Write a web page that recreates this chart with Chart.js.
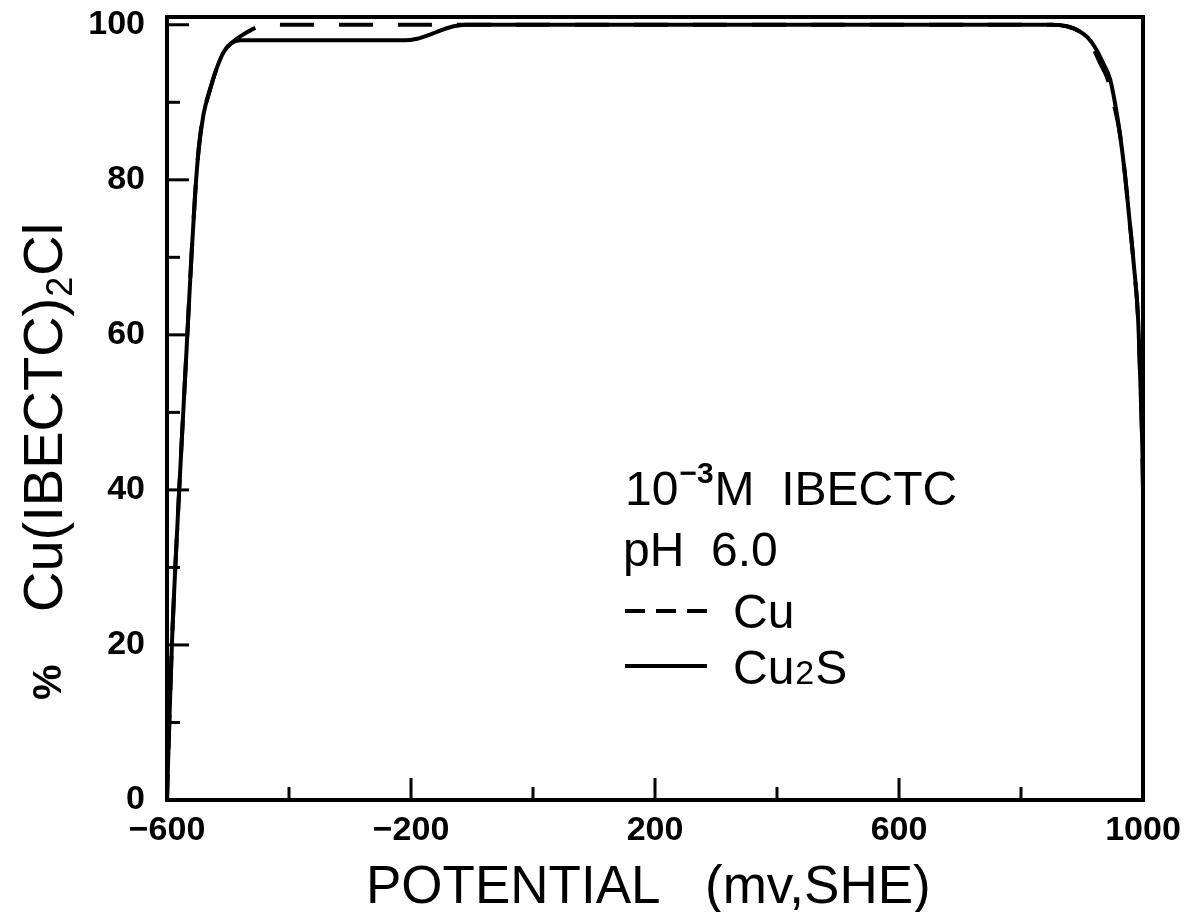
<!DOCTYPE html>
<html>
<head>
<meta charset="utf-8">
<title>% Cu(IBECTC)2Cl vs potential</title>
<script src="https://cdn.jsdelivr.net/npm/chart.js@4.4.1/dist/chart.umd.min.js"></script>
<style>
  html, body { margin: 0; padding: 0; background: #fff; }
  #wrap { width: 1189px; height: 912px; }
</style>
</head>
<body>
<div id="wrap"><canvas id="potentialChart" width="1189" height="912"></canvas></div>
<script>
// Cu2S curve (solid line), potential in mV vs SHE, % Cu(IBECTC)2Cl
const cu2sPotential = [-600, -597, -592, -580, -568, -560, -554, -548, -540, -530, -518, -507, -495, -480, -300, -210, -190, -170, -150, -130, -110, 300, 850, 875, 895, 910, 922, 935, 946, 955, 962, 970, 977, 985, 992, 996, 999, 1000];
const cu2sPercent = [0, 8, 20, 40, 58, 70, 78, 84, 88.5, 91.5, 94.5, 96.5, 97.6, 98, 98, 98, 98.2, 98.7, 99.3, 99.8, 100, 100, 100, 99.8, 99.2, 98.3, 97, 95, 93, 89.5, 86, 81, 75.5, 69, 62, 53, 45, 40];

// Cu curve (dashed line)
const cuPotential = [-600, -597, -592, -580, -568, -560, -554, -548, -540, -530, -518, -507, -495, -478, -452, -430, -300, 300, 850, 875, 895, 908, 918, 930, 942, 953, 962, 970, 977, 985, 992, 996, 999, 1000];
const cuPercent = [0, 8, 20, 40, 58, 70, 78, 84, 88.5, 91.5, 94.5, 96.5, 97.6, 98.6, 99.7, 100, 100, 100, 100, 99.8, 99.2, 98.3, 97, 95, 93, 89.5, 86, 81, 75.5, 69, 62, 53, 45, 40];

// axis ticks
const xLabelTicks = [-600, -200, 200, 600, 1000];
const xMinorTicks = [-400, 0, 400, 800];
const yLabelTicks = [0, 20, 40, 60, 80, 100];
const yMinorTicks = [10, 30, 50, 70, 90];

const FONT = '"Liberation Sans", Arial, Helvetica, sans-serif';
const DASH = [34, 25];

function toPoints(xs, ys) {
    return xs.map((x, i) => ({ x: x, y: ys[i] }));
}

// frame, inward tick marks, axis titles and the text block
const decorPlugin = {
    id: 'decor',
    afterDraw(chart) {
        const ctx = chart.ctx;
        const a = chart.chartArea;
        const xs = chart.scales.x;
        const ys = chart.scales.y;

        ctx.save();
        ctx.strokeStyle = '#000';
        ctx.fillStyle = '#000';
        ctx.lineWidth = 4;
        ctx.lineCap = 'butt';
        ctx.strokeRect(a.left, a.top, a.right - a.left, a.bottom - a.top);

        ctx.lineWidth = 3;
        function mark(x1, y1, x2, y2) {
            ctx.beginPath();
            ctx.moveTo(x1, y1);
            ctx.lineTo(x2, y2);
            ctx.stroke();
        }
        xLabelTicks.forEach(v => { const p = xs.getPixelForValue(v); mark(p, a.bottom, p, a.bottom - 22); });
        xMinorTicks.forEach(v => { const p = xs.getPixelForValue(v); mark(p, a.bottom, p, a.bottom - 13); });
        yLabelTicks.forEach(v => { const p = ys.getPixelForValue(v); mark(a.left, p, a.left + 22, p); });
        yMinorTicks.forEach(v => { const p = ys.getPixelForValue(v); mark(a.left, p, a.left + 13, p); });

        // x title
        ctx.font = '53px ' + FONT;
        ctx.textAlign = 'left';
        ctx.textBaseline = 'alphabetic';
        ctx.fillText('POTENTIAL', 366, 903);
        ctx.fillText('(mv,SHE)', 705, 903);

        // y title, rotated
        ctx.save();
        ctx.translate(62, 700);
        ctx.rotate(-Math.PI / 2);
        ctx.font = 'bold 40px ' + FONT;
        ctx.fillText('%', 0, -1);
        ctx.restore();

        ctx.save();
        ctx.translate(62, 612);
        ctx.rotate(-Math.PI / 2);
        let pos = 0;
        ctx.font = '56px ' + FONT;
        ctx.fillText('Cu(IBECTC)', pos, 0);
        pos += ctx.measureText('Cu(IBECTC)').width;
        ctx.font = '36px ' + FONT;
        ctx.fillText('2', pos + 1, 10);
        pos += ctx.measureText('2').width + 2;
        ctx.font = '56px ' + FONT;
        ctx.fillText('Cl', pos, 0);
        ctx.restore();

        // text block
        const tx = 625;
        let cx = tx;
        ctx.font = '48px ' + FONT;
        ctx.fillText('10', cx, 505);
        cx += ctx.measureText('10').width + 1;
        ctx.font = 'bold 30px ' + FONT;
        ctx.fillText('\u22123', cx, 483);
        cx += ctx.measureText('\u22123').width + 1;
        ctx.font = '48px ' + FONT;
        ctx.fillText('M  IBECTC', cx, 505);

        ctx.fillText('pH  6.0', tx - 2, 566);

        ctx.lineWidth = 4;
        const dashY = 611;
        [0, 31, 62].forEach(d => mark(tx + d, dashY, tx + d + 20, dashY));
        ctx.fillText('Cu', 733, 628);

        const solidY = 666;
        mark(tx, solidY, tx + 82, solidY);
        cx = 733;
        ctx.fillText('Cu', cx, 684);
        cx += ctx.measureText('Cu').width + 1;
        ctx.font = '34px ' + FONT;
        ctx.fillText('2', cx, 684);
        cx += ctx.measureText('2').width + 1;
        ctx.font = '48px ' + FONT;
        ctx.fillText('S', cx, 684);

        ctx.restore();
    }
};

const chart = new Chart(document.getElementById('potentialChart'), {
    type: 'line',
    data: {
        datasets: [{
            label: 'Cu',
            data: toPoints(cuPotential, cuPercent),
            borderColor: '#000',
            borderWidth: 4,
            borderDash: DASH,
            borderDashOffset: 0,
            pointRadius: 0,
            cubicInterpolationMode: 'monotone',
            fill: false
        }, {
            label: 'Cu2S',
            data: toPoints(cu2sPotential, cu2sPercent),
            borderColor: '#000',
            borderWidth: 4,
            pointRadius: 0,
            cubicInterpolationMode: 'monotone',
            fill: false
        }]
    },
    options: {
        responsive: false,
        animation: false,
        devicePixelRatio: 1,
        layout: { padding: { left: 0, top: 17, right: 46, bottom: 0 } },
        plugins: {
            legend: { display: false },
            title: { display: false },
            tooltip: { enabled: false }
        },
        scales: {
            x: {
                type: 'linear',
                min: -600,
                max: 1000,
                grid: { display: false, drawTicks: true, tickLength: 14 },
                border: { display: false },
                afterBuildTicks: axis => { axis.ticks = xLabelTicks.map(v => ({ value: v })); },
                afterFit: axis => { axis.height = 112; },
                ticks: {
                    color: '#000',
                    padding: 0,
                    maxRotation: 0,
                    font: { family: FONT, size: 34, weight: 'bold', lineHeight: 1 },
                    callback: v => (v < 0 ? '\u2212' + Math.abs(v) : String(v))
                }
            },
            y: {
                min: 0,
                max: 101,
                grid: { display: false, drawTicks: true, tickLength: 22 },
                border: { display: false },
                afterBuildTicks: axis => { axis.ticks = yLabelTicks.map(v => ({ value: v })); },
                afterFit: axis => { axis.width = 167; },
                ticks: {
                    color: '#000',
                    padding: 0,
                    font: { family: FONT, size: 34, weight: 'bold', lineHeight: 1 },
                    callback: v => String(v)
                }
            }
        }
    },
    plugins: [decorPlugin]
});

// start a dash where the Cu curve leaves the Cu2S curve (near -495 mV)
const cuMeta = chart.getDatasetMeta(0);
let pathLen = 0;
for (let i = 1; i < cuMeta.data.length && cuPotential[i] <= -495; i++) {
    const p = cuMeta.data[i - 1];
    const q = cuMeta.data[i];
    pathLen += Math.hypot(q.x - p.x, q.y - p.y);
}
const period = DASH[0] + DASH[1];
chart.data.datasets[0].borderDashOffset = (period - ((pathLen - 5) % period)) % period;
chart.update('none');
</script>
</body>
</html>
